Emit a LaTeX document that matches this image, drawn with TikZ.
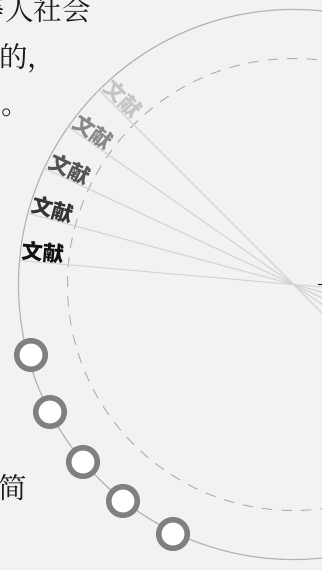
\documentclass[tikz,border=0pt]{standalone}
\usepackage{fontspec}
\newfontfamily\cjk{Noto Sans CJK SC}
\IfFontExistsTF{Noto Serif CJK SC}{\newfontfamily\song{Noto Serif CJK SC}}{\newfontfamily\song{Noto Sans CJK SC}[UprightFont={* Light}]}
\definecolor{bg}{HTML}{F2F2F2}
\definecolor{outerc}{HTML}{B4B4B4}
\definecolor{dashc}{HTML}{B0B0B0}
\definecolor{rayc}{HTML}{D4D4D4}
\definecolor{ringc}{HTML}{808080}
\definecolor{txtc}{HTML}{1A1A1A}
\definecolor{labA}{HTML}{C4C4C4}
\definecolor{labB}{HTML}{888888}
\definecolor{labC}{HTML}{555555}
\definecolor{labD}{HTML}{333333}
\definecolor{labE}{HTML}{111111}
\tikzset{
  outerring/.style={draw=outerc, line width=1.2pt},
  dashring/.style={draw=dashc, line width=1pt, dash pattern=on 10.5pt off 9pt},
  ray/.style={draw=rayc, line width=1.1pt},
  lab/.style={font=\cjk\bfseries\fontsize{21pt}{22pt}\selectfont, inner sep=0pt, anchor=south west},
  dot/.style={circle, draw=ringc, line width=5.5pt, fill=white, minimum size=28.5pt, inner sep=0pt},
  body/.style={font=\song\fontsize{28.5pt}{30pt}\selectfont, text=txtc, inner sep=0pt, anchor=base west}
}
\begin{document}
\begin{tikzpicture}[x=1pt,y=1pt]
\fill[bg] (0,0) rectangle (322,570);
\useasboundingbox (0,0) rectangle (322,570);
\clip (0,0) rectangle (322,570);
\coordinate (C) at (293.5,285.5);
\draw[outerring] (C) circle (275);
\draw[dashring] (C) circle (226);
\foreach \a [count=\i] in {135,145,155,165,175}{
  \coordinate (p\i) at ([shift={(\a:275)}]C);
  \coordinate (q\i) at ([shift={(\a+180:275)}]C);
  \draw[ray] (p\i) -- (q\i);
}
\foreach \a/\c [count=\i] in {135/labA,145/labB,155/labC,165/labD,175/labE}{
  \node[lab, text=\c, rotate=\a-180] (l\i) at ([shift={(\a:273)}]C) {文献};
}
\foreach \x/\y [count=\i] in {31/215,50/158,83/108,123/69,173/36}{
  \node[dot] (r\i) at (\x,\y) {};
}
\node[body] (t1) at (-23.25,549) {等人社会};
\node[body] (t2) at (-1,502) {的，};
\node[body] (t3) at (1,455) {。};
\node[body] (t4) at (-2,71) {简};
\draw[black, line width=1.5pt] (318,285.5) -- (322,285.5);
\end{tikzpicture}
\end{document}
